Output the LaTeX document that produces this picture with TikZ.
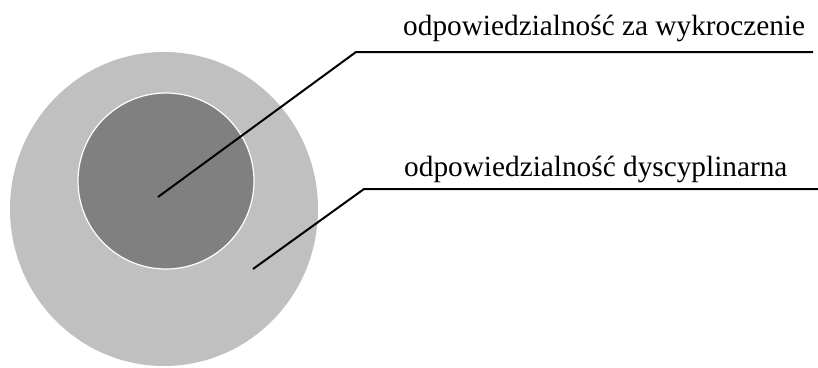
\documentclass[tikz,border=0pt]{standalone}
\usepackage{fontspec}
\setmainfont{Liberation Serif}
\usetikzlibrary{shapes.geometric}
\definecolor{outergray}{RGB}{192,192,192}
\definecolor{innergray}{RGB}{128,128,128}
\tikzset{
  leader/.style={draw=black, line width=2pt},
  lbl/.style={anchor=base west, inner sep=0pt, font=\fontsize{29.3pt}{35pt}\selectfont},
}
\begin{document}
\begin{tikzpicture}[x=1pt,y=-1pt]
\useasboundingbox (0,0) rectangle (818,367);
\node[ellipse, fill=outergray, draw=none, minimum width=308pt, minimum height=314pt, inner sep=0pt] (outer) at (164,209) {};
\node[circle, fill=innergray, draw=white, line width=1.2pt, minimum size=176pt, inner sep=0pt] (inner) at (166,181) {};
\coordinate (s1) at (158,197);
\coordinate (b1) at (356,52);
\coordinate (e1) at (813,52);
\coordinate (s2) at (253,269);
\coordinate (b2) at (364,189);
\coordinate (e2) at (818,189);
\draw[leader] (s1) -- (b1) -- (e1);
\draw[leader] (s2) -- (b2) -- (e2);
\node[lbl] (t1) at (403,35) {odpowiedzialność za wykroczenie};
\node[lbl] (t2) at (404,176) {odpowiedzialność dyscyplinarna};
\end{tikzpicture}
\end{document}
